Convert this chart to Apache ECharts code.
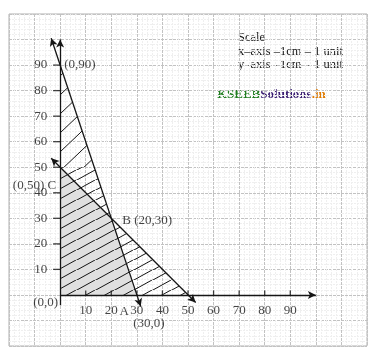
<!DOCTYPE html>
<html>
<head>
<meta charset="utf-8">
<script src="https://cdn.jsdelivr.net/npm/echarts@6/dist/echarts.min.js"></script>
<style>
  html, body { margin: 0; padding: 0; background: #fff; }
  #chart { width: 375px; height: 354px; }
</style>
</head>
<body>
<div id="chart"></div>
<script>
// constraint lines (drawn a little past the axes, like the hand drawing)
const line1 = [[-3.5, 100.5], [31.5, -4.5]]; // 3x + y = 90
const line2 = [[-3.5, 53.5], [53, -3]];      // x + y = 50
const xAxisSeg = [[0, 0], [100, 0]];
const yAxisSeg = [[0, -4], [0, 100]];

const xTicks = [10, 20, 30, 40, 50, 60, 70, 80, 90];
const yTicks = [10, 20, 30, 40, 50, 60, 70, 80, 90];

// regions
const feasible = [[0, 0], [0, 50], [20, 30], [30, 0]];           // grey
const hatchUpper = [[0, 50], [0, 90], [40 / 3, 50]];               // steep hatch
const hatchLower = [[0, 0], [0, 50], [40 / 3, 50], [20, 30], [50, 0]];

const pointLabels = [
  { value: [0, 90], text: '(0,90)', pos: 'right', off: [2, 0] },
  { value: [0, 50], text: '(0,50) C', pos: 'left', off: [-2, 18] },
  { value: [20, 30], text: 'B (20,30)', pos: 'right', off: [9, 2] },
  { value: [30, 0], text: 'A', pos: 'left', off: [-6, 17] },
  { value: [30, 0], text: '(30,0)', pos: 'bottom', off: [12, 20] },
  { value: [0, 0], text: '(0,0)', pos: 'left', off: [0, 8] }
];

const INK = '#151515';
const FONT = '"Liberation Serif", "DejaVu Serif", serif';

function hatchPattern(w, h) {
  const c = document.createElement('canvas');
  c.width = w;
  c.height = h;
  const ctx = c.getContext('2d');
  ctx.strokeStyle = INK;
  ctx.lineWidth = 1;
  ctx.beginPath();
  ctx.moveTo(-w, 2 * h);
  ctx.lineTo(2 * w, -h);
  ctx.stroke();
  return { image: c, repeat: 'repeat' };
}

const upperPattern = hatchPattern(20, 19);
const lowerPattern = hatchPattern(19, 10.5);

function polygonSeries(points, fill) {
  return {
    type: 'custom',
    silent: true,
    data: [0],
    renderItem: (params, api) => ({
      type: 'polygon',
      shape: { points: points.map((p) => api.coord(p)) },
      style: { fill: fill, stroke: null }
    })
  };
}

function segment(seg, both) {
  return {
    type: 'line',
    data: [],
    markLine: {
      silent: true,
      symbol: [both ? 'arrow' : 'none', 'arrow'],
      symbolSize: [6, 8],
      label: { show: false },
      lineStyle: { color: INK, width: 1.3, type: 'solid' },
      data: [[{ coord: seg[0] }, { coord: seg[1] }]]
    }
  };
}

const chart = echarts.init(document.getElementById('chart'));

chart.setOption({
  animation: false,
  grid: { left: 9, right: 8, top: 14, bottom: 8, show: true, borderColor: '#b0b0b0', borderWidth: 1 },
  xAxis: {
    type: 'value', min: -20, max: 120, interval: 10,
    axisLine: { show: false }, axisTick: { show: false }, axisLabel: { show: false },
    splitLine: { lineStyle: { color: '#c2c2c2', width: 1, type: [3, 1] } },
    minorTick: { show: false, splitNumber: 5 },
    minorSplitLine: { show: true, lineStyle: { color: '#efefef', width: 1, type: [2, 1] } }
  },
  yAxis: {
    type: 'value', min: -20, max: 110, interval: 10,
    axisLine: { show: false }, axisTick: { show: false }, axisLabel: { show: false },
    splitLine: { lineStyle: { color: '#c2c2c2', width: 1, type: [3, 1] } },
    minorTick: { show: false, splitNumber: 5 },
    minorSplitLine: { show: true, lineStyle: { color: '#efefef', width: 1, type: [2, 1] } }
  },
  series: [
    polygonSeries(feasible, '#e0e0e0'),
    polygonSeries(hatchUpper, upperPattern),
    polygonSeries(hatchLower, lowerPattern),
    segment(xAxisSeg, false),
    segment(yAxisSeg, false),
    segment(line1, true),
    segment(line2, true),
    {
      type: 'scatter', silent: true,
      symbol: 'rect', symbolSize: [1.3, 5], symbolOffset: [0, -2],
      itemStyle: { color: INK },
      data: xTicks.map((v) => [v, 0]),
      label: {
        show: true, position: 'bottom', distance: 9,
        formatter: (p) => String(p.value[0]),
        color: INK, fontFamily: FONT, fontSize: 13
      }
    },
    {
      type: 'scatter', silent: true,
      symbol: 'rect', symbolSize: [7, 1.3], symbolOffset: [-3.5, 0],
      itemStyle: { color: INK },
      data: yTicks.map((v) => [0, v]),
      label: {
        show: true, position: 'left', distance: 6,
        formatter: (p) => String(p.value[1]),
        color: INK, fontFamily: FONT, fontSize: 13
      }
    },
    {
      type: 'scatter', silent: true,
      symbolSize: 0,
      data: pointLabels.map((d) => ({
        value: d.value,
        label: { position: d.pos, offset: d.off, formatter: d.text }
      })),
      label: { show: true, color: INK, fontFamily: FONT, fontSize: 13, distance: 2 }
    }
  ],
  graphic: [
    {
      type: 'text', left: 238, top: 31,
      style: {
        text: 'Scale\nx–axis –1cm – 1 unit\ny–axis –1cm – 1 unit',
        font: '12.5px ' + FONT, fill: INK, lineHeight: 13.5
      }
    },
    {
      type: 'text', left: 217, top: 88,
      style: {
        text: '{a|KSEEB}{b|Solutions}{c|.in}',
        rich: {
          a: { fill: '#1f7d1f', font: 'bold 13px ' + FONT },
          b: { fill: '#3b1f72', font: 'bold 13px ' + FONT },
          c: { fill: '#e07b00', font: 'bold 13px ' + FONT }
        }
      }
    }
  ]
});
</script>
</body>
</html>
